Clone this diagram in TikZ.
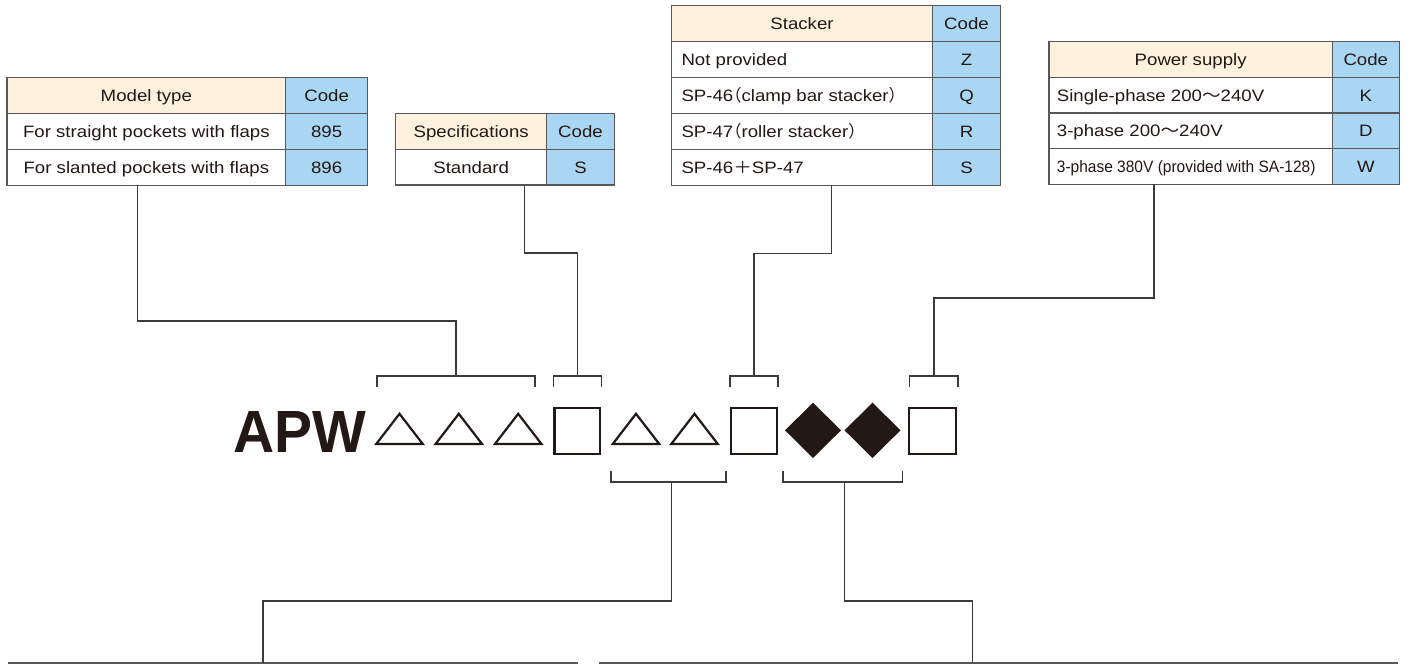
\documentclass[tikz,border=0pt]{standalone}
\usepackage{fontspec}
\setmainfont[FakeStretch=1.13]{Liberation Sans}
\newfontfamily\narrowfont[FakeStretch=0.94]{Liberation Sans}
\newfontfamily\cjkw[FakeStretch=1.13]{Noto Sans CJK JP}
\newfontfamily\cjkh[RawFeature=+halt]{Noto Sans CJK JP}
\newfontfamily\apwfont[FakeStretch=0.955]{Liberation Sans}
\definecolor{ink}{HTML}{231815}
\definecolor{tline}{HTML}{595757}
\definecolor{conncol}{HTML}{3E3A39}
\definecolor{cream}{HTML}{FEF1DD}
\definecolor{codeblue}{HTML}{A9D6F3}
\newcommand\tfont{\fontsize{16.5pt}{19pt}\selectfont}
\tikzset{
  cellbox/.style={draw=tline, line width=1.1pt, inner sep=0pt, outer sep=0pt,
    anchor=north west, minimum height=#1, text height=15.8pt, text depth=4pt,
    font=\tfont, text=ink},
  cellbox/.default=36pt,
  hdrcell/.style={cellbox=#1, fill=cream},
  hdrcell/.default=36pt,
  codecell/.style={cellbox=#1, fill=codeblue},
  codecell/.default=36pt,
  bodycell/.style={cellbox=#1, fill=white},
  bodycell/.default=36pt,
  lefttext/.style={anchor=west, inner sep=0pt, text height=15.8pt, text depth=4pt,
    font=\tfont, text=ink},
  conn/.style={draw=conncol, line width=1.3pt},
  glyph/.style={draw=ink, line width=2.2pt, line join=miter},
  cuttable/.style={draw=tline, line width=1.5pt},
}
\begin{document}
\begin{tikzpicture}[x=1pt,y=-1pt]
\useasboundingbox (0,0) rectangle (1410,664);

% ---------------- Model type table
\node[hdrcell, minimum width=278.7pt] (mh) at (7,77.3) {Model type};
\node[codecell, minimum width=81.8pt] (mhc) at (285.7,77.3) {Code};
\node[bodycell, minimum width=278.7pt] (m1) at (7,113.3) {For straight pockets with flaps};
\node[codecell, minimum width=81.8pt] (m1c) at (285.7,113.3) {895};
\node[bodycell, minimum width=278.7pt] (m2) at (7,149.3) {For slanted pockets with flaps};
\node[codecell, minimum width=81.8pt] (m2c) at (285.7,149.3) {896};

% ---------------- Specifications table
\node[hdrcell, minimum width=151pt] (sh) at (395.7,113.3) {Specifications};
\node[codecell, minimum width=67.6pt] (shc) at (546.7,113.3) {Code};
\node[bodycell=35.7pt, minimum width=151pt] (s1) at (395.7,149.3) {Standard};
\node[codecell=35.7pt, minimum width=67.6pt] (s1c) at (546.7,149.3) {S};

% ---------------- Stacker table
\node[hdrcell=35.9pt, minimum width=261.4pt] (kh) at (671.3,5.7) {Stacker};
\node[codecell=35.9pt, minimum width=67.6pt] (khc) at (932.7,5.7) {Code};
\node[bodycell=35.9pt, minimum width=261.4pt] (k1) at (671.3,41.6) {};
\node[codecell=35.9pt, minimum width=67.6pt] (k1c) at (932.7,41.6) {Z};
\node[bodycell=35.9pt, minimum width=261.4pt] (k2) at (671.3,77.5) {};
\node[codecell=35.9pt, minimum width=67.6pt] (k2c) at (932.7,77.5) {Q};
\node[bodycell=35.9pt, minimum width=261.4pt] (k3) at (671.3,113.4) {};
\node[codecell=35.9pt, minimum width=67.6pt] (k3c) at (932.7,113.4) {R};
\node[bodycell=35.9pt, minimum width=261.4pt] (k4) at (671.3,149.3) {};
\node[codecell=35.9pt, minimum width=67.6pt] (k4c) at (932.7,149.3) {S};
\node[lefttext] (k1t) at ([xshift=10pt]k1.west) {Not provided};
\node[lefttext] (k2t) at ([xshift=10pt]k2.west) {SP-46{\cjkh （}clamp bar stacker{\cjkh ）}};
\node[lefttext] (k3t) at ([xshift=10pt]k3.west) {SP-47{\cjkh （}roller stacker{\cjkh ）}};
\node[lefttext] (k4t) at ([xshift=10pt]k4.west) {SP-46{\cjkw ＋}SP-47};

% ---------------- Power supply table
\node[hdrcell=35.65pt, minimum width=283.3pt] (ph) at (1049,41.7) {Power supply};
\node[codecell=35.65pt, minimum width=67pt] (phc) at (1332.3,41.7) {Code};
\node[bodycell=35.65pt, minimum width=283.3pt] (p1) at (1049,77.35) {};
\node[codecell=35.65pt, minimum width=67pt] (p1c) at (1332.3,77.35) {K};
\node[bodycell=35.65pt, minimum width=283.3pt] (p2) at (1049,113) {};
\node[codecell=35.65pt, minimum width=67pt] (p2c) at (1332.3,113) {D};
\node[bodycell=35.65pt, minimum width=283.3pt] (p3) at (1049,148.65) {};
\node[codecell=35.65pt, minimum width=67pt] (p3c) at (1332.3,148.65) {W};
\node[lefttext] (p1t) at ([xshift=7.7pt]p1.west) {Single-phase 200{\cjkw ～}240V};
\node[lefttext] (p2t) at ([xshift=7.7pt]p2.west) {3-phase 200{\cjkw ～}240V};
\node[lefttext, font=\tfont\narrowfont] (p3t) at ([xshift=7.7pt]p3.west) {3-phase 380V (provided with SA-128)};

% ---------------- Cut-off tables at the bottom
\coordinate (tl) at (263,663);
\coordinate (tr) at (972.6,663);
\draw[cuttable] (8,663) -- (tl) -- (578,663);
\draw[cuttable] (599,663) -- (tr) -- (1398,663);

% ---------------- Code string
\node[anchor=base west, inner sep=0pt, text=ink, font=\apwfont\bfseries\fontsize{59.6pt}{60pt}\selectfont] (apw) at (233.6,452.8) {APW};
\foreach \x/\n in {374/t1, 433.3/t2, 492.7/t3, 610.5/t4, 669/t5}{
  \draw[glyph] (\x+2.3,443.9) -- (\x+25.5,413.8) -- (\x+48.7,443.9) -- cycle;
}
\foreach \x/\w in {553.3/48, 730/48, 907.5/49.5}{
  \draw[glyph] (\x+1.1,408.1) rectangle (\x+\w-1.1,453.9);
}
\foreach \c in {813, 872.5}{
  \fill[ink] (\c-28,430.3) -- (\c,402.7) -- (\c+28,430.3) -- (\c,458) -- cycle;
}

% ---------------- Brackets
\coordinate (bm) at (456,376);
\coordinate (bs) at (577.3,376);
\coordinate (bk) at (754,376);
\coordinate (bp) at (934,376);
\coordinate (bl) at (671.6,482);
\coordinate (br) at (844.5,482);
\draw[conn] (377,387) -- (377,376) -- (535,376) -- (535,387);
\draw[conn] (553.3,387) -- (553.3,376) -- (601.3,376) -- (601.3,387);
\draw[conn] (730,387) -- (730,376) -- (778,376) -- (778,387);
\draw[conn] (909.7,387) -- (909.7,376) -- (958,376) -- (958,387);
\draw[conn] (611,471) -- (611,482) -- (726,482) -- (726,471);
\draw[conn] (783,471) -- (783,482) -- (902.5,482) -- (902.5,471);

% ---------------- Connectors
\coordinate (mout) at ([xshift=130.3pt]m2.south west);
\coordinate (sout) at ([xshift=128.6pt]s1.south west);
\coordinate (kout) at ([xshift=160.4pt]k4.south west);
\coordinate (pout) at ([xshift=105pt]p3.south west);
\draw[conn] (mout) -- ++(0,135.7) -| (bm);
\draw[conn] (sout) -- ++(0,68) -| (bs);
\draw[conn] (kout) -- ++(0,68) -| (bk);
\draw[conn] (pout) -- ++(0,113.7) -| (bp);
\draw[conn] (bl) -- ++(0,119) -| (tl);
\draw[conn] (br) -- ++(0,119) -| (tr);
\end{tikzpicture}
\end{document}
